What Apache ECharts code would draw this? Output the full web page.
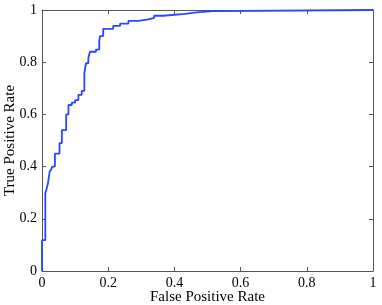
<!DOCTYPE html>
<html>
<head>
<meta charset="utf-8">
<script src="https://cdn.jsdelivr.net/npm/echarts@6/dist/echarts.min.js"></script>
<style>html,body{margin:0;padding:0;background:#fff}#c{width:382px;height:305px}</style>
</head>
<body>
<div id="c"></div>
<script>
var fpr = [0,0,0.010,0.010,0.013,0.013,0.018,0.018,0.023,0.023,0.028,0.028,0.031,0.031,0.039,0.039,0.053,0.053,0.060,0.060,0.073,0.073,0.080,0.080,0.090,0.090,0.100,0.100,0.110,0.110,0.120,0.120,0.128,0.128,0.133,0.133,0.140,0.140,0.145,0.145,0.163,0.163,0.173,0.173,0.175,0.175,0.185,0.185,0.215,0.215,0.236,0.236,0.261,0.261,0.291,0.291,0.321,0.321,0.339,0.339,0.366,0.366,0.432,0.432,0.467,0.467,0.517,0.517,1];
var tpr = [0,0.118,0.118,0.298,0.298,0.310,0.310,0.336,0.336,0.380,0.380,0.390,0.390,0.400,0.400,0.450,0.450,0.490,0.490,0.540,0.540,0.600,0.600,0.636,0.636,0.645,0.645,0.655,0.655,0.675,0.675,0.690,0.690,0.758,0.758,0.796,0.796,0.816,0.816,0.840,0.840,0.848,0.848,0.880,0.880,0.900,0.900,0.928,0.928,0.939,0.939,0.948,0.948,0.958,0.958,0.964,0.964,0.970,0.970,0.978,0.978,0.985,0.985,0.991,0.991,0.996,0.996,1,1];
var xLabel = 'False Positive Rate';
var yLabel = 'True Positive Rate';

var pts = fpr.map(function(x,i){return [x,tpr[i]];});
var font = 'Liberation Serif';
var axisCol = '#555';
function ax(pos, labels, name, isY){
  var o = {
    type:'value', position:pos, min:0, max:1, interval:0.2,
    axisLine:{show:true,onZero:false,lineStyle:{color:axisCol,width:1}},
    axisTick:{show:true,inside:true,length:4,lineStyle:{color:axisCol}},
    splitLine:{show:false},
    axisLabel:{show:labels,color:'#000',fontFamily:font,fontSize:14,margin:5}
  };
  if(name){
    o.name=name; o.nameLocation='middle'; o.nameMoveOverlap=false;
    o.nameTextStyle={color:'#000',fontFamily:font,fontSize:15};
    o.nameGap = isY?24:19;
  }
  return o;
}
var chart = echarts.init(document.getElementById('c'),null,{renderer:'canvas'});
chart.setOption({
  animation:false,
  grid:{left:42,right:9,top:10,bottom:34,containLabel:false,outerBoundsMode:'none'},
  xAxis:[ax('bottom',true,xLabel,false), ax('top',false,null,false)],
  yAxis:[ax('left',true,yLabel,true), ax('right',false,null,true)],
  series:[{type:'line',data:pts,showSymbol:false,clip:false,
    lineStyle:{color:'#2b45ff',width:1.8},xAxisIndex:0,yAxisIndex:0}]
});
</script>
</body>
</html>
